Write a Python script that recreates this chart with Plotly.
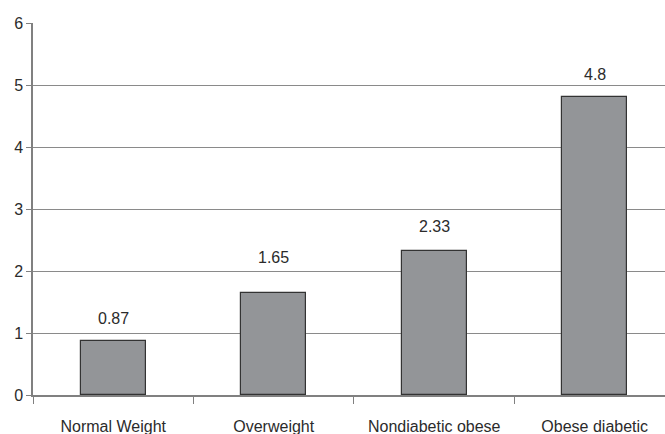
import plotly.graph_objects as go

categories = ["Normal Weight", "Overweight", "Nondiabetic obese", "Obese diabetic"]
values = [0.87, 1.65, 2.33, 4.8]
value_labels = ["0.87", "1.65", "2.33", "4.8"]
y_ticks = [0, 1, 2, 3, 4, 5, 6]

# vertical gap (px) between each bar top and its value label
label_offsets = [23, 35, 24, 23]

FONT = "Liberation Sans, Arial, sans-serif"
TXT = "#2b2b2b"

fig = go.Figure()
fig.add_trace(go.Bar(
    x=categories,
    y=values,
    width=0.405,
    marker=dict(color="#939598", line=dict(color="#333333", width=1.2)),
    showlegend=False,
))

for c, v, t, dy in zip(categories, values, value_labels, label_offsets):
    fig.add_annotation(x=c, y=v, text=t, showarrow=False, yshift=dy,
                       font=dict(family=FONT, size=16, color=TXT))

fig.update_layout(
    width=665, height=434,
    margin=dict(l=33, r=0, t=23, b=39),
    paper_bgcolor="white", plot_bgcolor="white",
    font=dict(family=FONT, size=16, color=TXT),
    bargap=0,
)
fig.update_xaxes(
    type="category",
    range=[-0.5, 3.438],
    automargin=False,
    showline=True, linecolor="#808080", linewidth=1.5,
    ticks="outside", tickson="boundaries", ticklen=7, tickcolor="#808080",
    ticklabelstandoff=16,
    showgrid=False,
    tickfont=dict(family=FONT, size=16, color=TXT),
)
fig.update_yaxes(
    range=[0, 6], tickvals=y_ticks,
    automargin=False,
    showline=True, linecolor="#808080", linewidth=1.5,
    ticks="outside", ticklen=5, tickcolor="#808080",
    showgrid=True, gridcolor="#8a8a8a", gridwidth=1,
    zeroline=False,
    tickfont=dict(family=FONT, size=16, color=TXT),
)

fig.write_html("out.html")
